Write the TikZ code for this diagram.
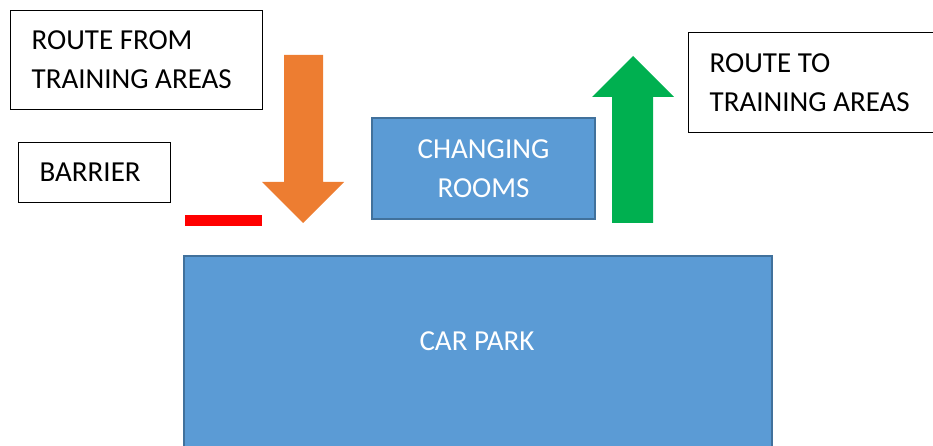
\documentclass[tikz,border=0pt]{standalone}
\usepackage{fontspec}
\setmainfont{Carlito}
\usetikzlibrary{positioning}

\definecolor{roomblue}{HTML}{5B9BD5}
\definecolor{roomedge}{HTML}{41719C}
\definecolor{routeorange}{HTML}{ED7D31}
\definecolor{routegreen}{HTML}{00B050}
\definecolor{barrierred}{HTML}{FF0000}

\begin{document}
\begin{tikzpicture}[
  x=1pt, y=-1pt,
  every node/.style={font=\fontsize{29pt}{39pt}\selectfont},
  signbox/.style={rectangle, draw=black, line width=1.3pt, fill=white, inner xsep=21pt, inner ysep=0pt, align=flush left, anchor=north west},
  roombox/.style={rectangle, draw=roomedge, line width=1.5pt, fill=roomblue, text=white, inner sep=0pt, align=center},
  roomtext/.style={text=white, inner sep=0pt}
]
\useasboundingbox (0,0) rectangle (933,446);
\clip (0,0) rectangle (933,446);

% signs
\node[signbox, text width=210pt, minimum height=99pt] (from) at (10,10) {ROUTE FROM\\TRAINING AREAS};
\node[signbox, text width=110pt, minimum height=60pt] (barrier) at (18,142) {BARRIER};
\node[signbox, text width=206pt, minimum height=100pt] (to) at (688,32) {ROUTE TO\\TRAINING AREAS};

% buildings
\node[roombox, minimum width=223pt, minimum height=101pt] (rooms) at (483.5,168.5) {CHANGING\\ROOMS};
\node[roombox, minimum width=588pt, minimum height=210pt, anchor=north west] (carpark) at (183,255) {};
\node[roomtext] (carparklabel) at (477,341) {CAR PARK};

% barrier line
\fill[barrierred] (185,215) rectangle (262,226);

% block arrows
\fill[routeorange] (284,55) -- (323,55) -- (323,182) -- (344,182) -- (303,223) -- (262,182) -- (284,182) -- cycle;
\fill[routegreen] (612,223) -- (653,223) -- (653,97) -- (674,97) -- (633,56) -- (592,97) -- (612,97) -- cycle;
\end{tikzpicture}
\end{document}
